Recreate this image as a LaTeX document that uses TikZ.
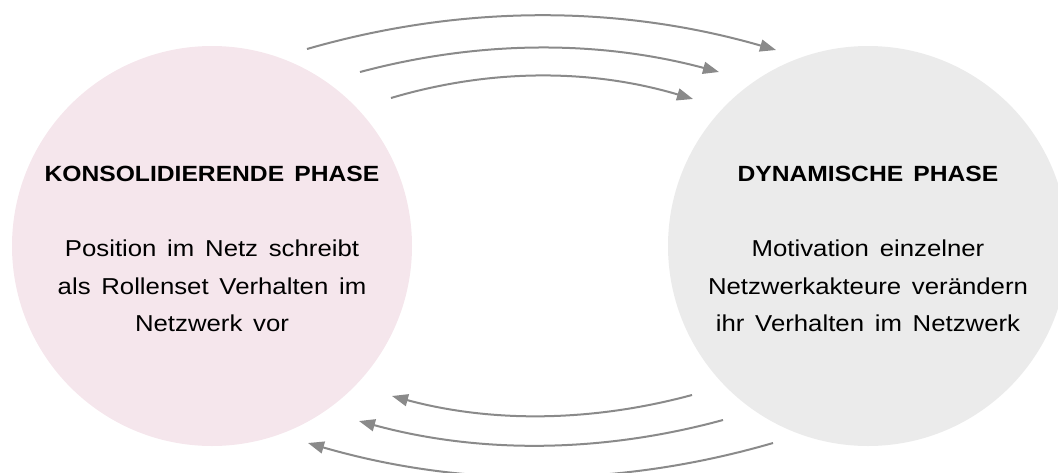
\documentclass[tikz,border=0pt]{standalone}
\usepackage{fontspec}
\setmainfont{Liberation Sans}[FakeStretch=1.12,WordSpace=1.5]
\usetikzlibrary{arrows.meta}
\definecolor{pinkfill}{HTML}{F5E6EC}
\definecolor{greyfill}{HTML}{EBEBEB}
\definecolor{arrowgrey}{HTML}{8A8A8A}
\begin{document}
\begin{tikzpicture}[x=1pt,y=-1pt,
  phase/.style={circle, minimum size=400pt, inner sep=0pt, draw=none},
  phasetext/.style={align=center, anchor=north, inner sep=0pt, font=\fontsize{23}{37.5}\selectfont},
  flow/.style={draw=arrowgrey, line width=2pt, -{Triangle[length=16pt,width=12pt]}}]
\useasboundingbox (0,0) rectangle (1058,472);
\clip (0,0) rectangle (1058,472);
% phases
\node[phase, fill=pinkfill] (kons) at (212,246) {};
\node[phase, fill=greyfill] (dyn) at (868,246) {};
\node[phasetext] (konstext) at (212,166)
  {{\fontsize{22}{37.5}\selectfont\bfseries KONSOLIDIERENDE PHASE}\\[37.5pt]
   Position im Netz schreibt\\ als Rollenset Verhalten im\\ Netzwerk vor};
\node[phasetext] (dyntext) at (868,166)
  {{\fontsize{22}{37.5}\selectfont\bfseries DYNAMISCHE PHASE}\\[37.5pt]
   Motivation einzelner\\ Netzwerkakteure verändern\\ ihr Verhalten im Netzwerk};
% arrow end points
\coordinate (t1s) at (307,49);  \coordinate (t1e) at (776,50);
\coordinate (t2s) at (360,72);  \coordinate (t2e) at (719,72);
\coordinate (t3s) at (391,98);  \coordinate (t3e) at (693,99);
\coordinate (b1s) at (692,395); \coordinate (b1e) at (392,396);
\coordinate (b2s) at (723,420); \coordinate (b2e) at (359,421);
\coordinate (b3s) at (773,443); \coordinate (b3e) at (308,443);
% top arrows: konsolidierend -> dynamisch
\draw[flow] (t1s) .. controls +(156,-45) and +(-156,-45) .. (t1e);
\draw[flow] (t2s) .. controls +(120,-32) and +(-120,-32) .. (t2e);
\draw[flow] (t3s) .. controls +(101,-30) and +(-101,-30) .. (t3e);
% bottom arrows: dynamisch -> konsolidierend
\draw[flow] (b1s) .. controls +(-100,27) and +(100,27) .. (b1e);
\draw[flow] (b2s) .. controls +(-121,33) and +(121,33) .. (b2e);
\draw[flow] (b3s) .. controls +(-155,45) and +(155,45) .. (b3e);
\end{tikzpicture}
\end{document}
